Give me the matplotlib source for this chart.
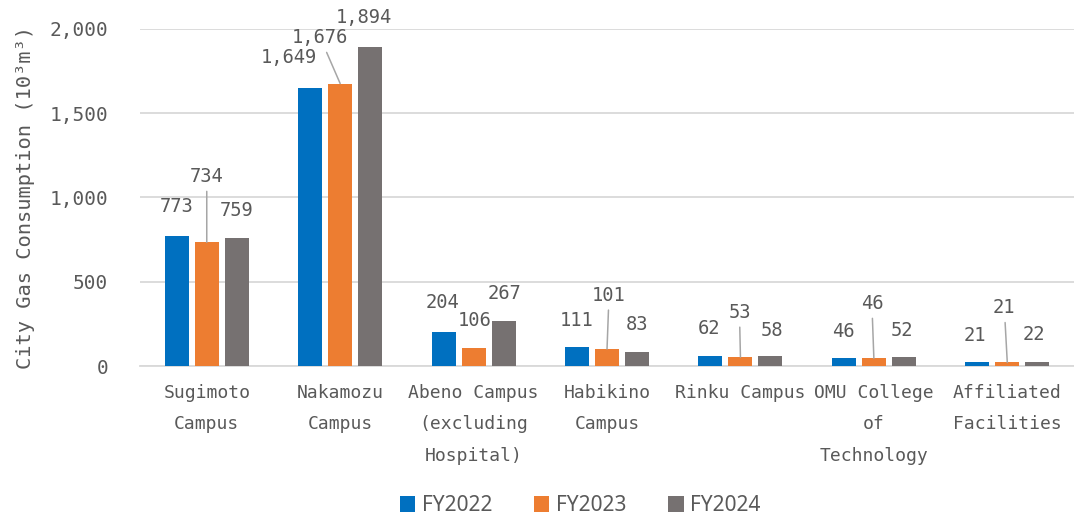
import numpy as np
import matplotlib
matplotlib.use("Agg")
import matplotlib.pyplot as plt
from matplotlib.ticker import FuncFormatter

# ==== DATA ====
categories = ["Sugimoto\nCampus", "Nakamozu\nCampus", "Abeno Campus\n(excluding\nHospital)",
              "Habikino\nCampus", "Rinku Campus", "OMU College\nof\nTechnology",
              "Affiliated\nFacilities"]
years = ["FY2022", "FY2023", "FY2024"]
fy2022 = [773, 1649, 204, 111, 62, 46, 21]
fy2023 = [734, 1676, 106, 101, 53, 46, 21]
fy2024 = [759, 1894, 267, 83, 58, 52, 22]
yticks = [0, 500, 1000, 1500, 2000]

# ==== STYLE ====
COLORS = ["#0070C0", "#ED7D31", "#767171"]
TEXT = "#595959"
GRID = "#D9D9D9"
MONO = "DejaVu Sans Mono"
BAR_W = 0.18
STEP = 0.225

# label offsets in pixels (dx, dy) from bar top; leader=True draws a connector line
label_offsets = [
    [(0, 29, False), (0, 66, True), (0, 28, False)],
    [(-21, 31, False), (-20, 46, True), (-6, 29, False)],
    [(-1, 29, False), (1, 28, False), (1, 28, False)],
    [(0, 27, False), (2, 54, True), (0, 28, False)],
    [(-1, 27, False), (-1, 45, True), (1, 26, False)],
    [(-1, 27, False), (-2, 55, True), (-2, 27, False)],
    [(-2, 27, False), (-3, 55, True), (-3, 28, False)],
]

fig = plt.figure(figsize=(10.74, 5.17), dpi=100)
ax = fig.add_axes([0.1304, 0.292, 0.8696, 0.652])

x = np.arange(len(categories))
series = [fy2022, fy2023, fy2024]
for j, (vals, col, name) in enumerate(zip(series, COLORS, years)):
    xs = x + (j - 1) * STEP
    ax.bar(xs, vals, width=BAR_W, color=col, label=name, zorder=3)
    for i, v in enumerate(vals):
        dx, dy, leader = label_offsets[i][j]
        arrow = dict(arrowstyle="-", color="#A6A6A6", lw=1.1, shrinkA=2, shrinkB=0) if leader else None
        ax.annotate(f"{v:,}", xy=(xs[i], v), xytext=(dx, dy), textcoords="offset pixels",
                    ha="center", va="center", fontsize=13.5, color=TEXT, family=MONO,
                    arrowprops=arrow, zorder=4)

ax.set_xlim(-0.5, len(categories) - 0.5)
ax.set_ylim(0, 2000)
ax.set_yticks(yticks)
ax.yaxis.set_major_formatter(FuncFormatter(lambda v, p: f"{int(v):,}"))
ax.yaxis.grid(True, color=GRID, lw=1.3, zorder=0)
ax.set_xticks(x)
ax.set_xticklabels(categories, fontsize=13, color=TEXT, family=MONO, linespacing=1.95, va="top")
ax.tick_params(axis="x", length=0, pad=13)
ax.tick_params(axis="y", length=0, pad=23, labelsize=14, labelcolor=TEXT)
for lab in ax.get_yticklabels():
    lab.set_family(MONO)
for s in ["top", "right", "left"]:
    ax.spines[s].set_visible(False)
ax.spines["bottom"].set_color(GRID)
ax.spines["bottom"].set_linewidth(1.3)

ax.set_ylabel("City Gas Consumption (10³m³)", fontsize=14.7, color=TEXT, family=MONO)
ax.yaxis.set_label_coords(-0.113, 0.5)

fig.legend(loc="lower center", bbox_to_anchor=(0.54, -0.035), ncol=3, frameon=False,
           handlelength=0.75, handleheight=0.75, handletextpad=0.3, columnspacing=2.0,
           prop={"family": "Noto Sans", "size": 15}, labelcolor=TEXT)

fig.savefig("out.png", dpi=100)
